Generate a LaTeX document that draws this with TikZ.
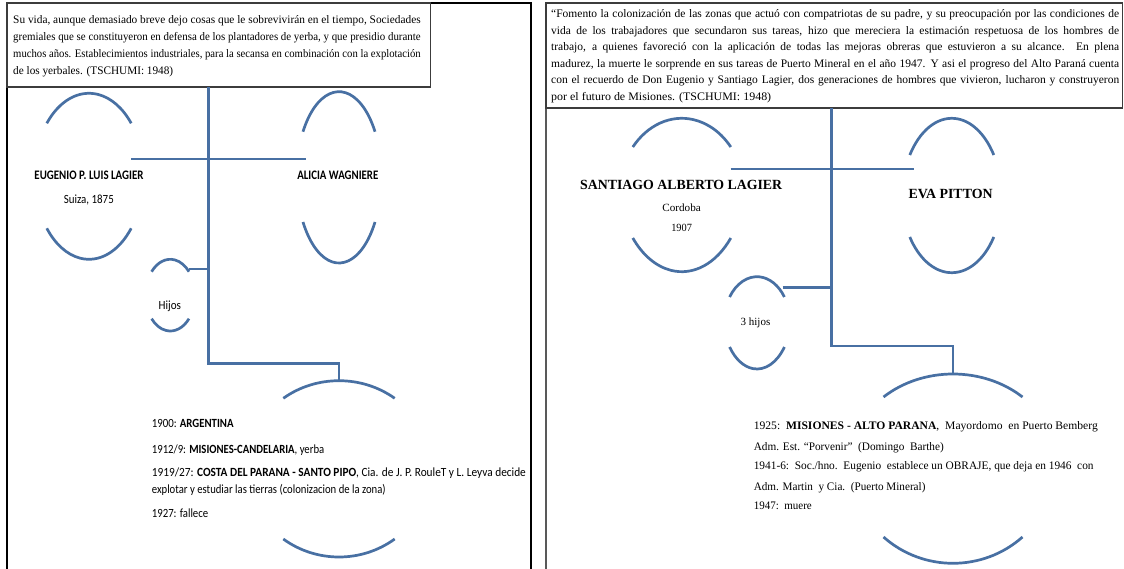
\documentclass[tikz,border=0pt]{standalone}
\usepackage{fontspec}
\usepackage{graphicx}
\setmainfont{Liberation Serif}
\newfontfamily\calib{Carlito}
\usetikzlibrary{calc}
\definecolor{lineblue}{RGB}{72,112,163}
\definecolor{boxgray}{RGB}{60,60,60}
\newcommand\fitw[2]{\resizebox{#1}{\height}{#2}}
\newcommand\fitline[2]{\setbox0\hbox{#2}\ifdim\wd0>#1\relax\resizebox{#1}{\height}{#2}\else\makebox[#1][s]{#2}\fi}
\newcommand\uarc[5]{%
  \pgfmathsetmacro\arx{(#3)/cos(#5)}%
  \pgfmathsetmacro\ary{((#2)-(#4))/(1-sin(#5))}%
  \draw[blueline] ({#1-#3},{#2}) arc[start angle={180+#5}, end angle={360-#5}, x radius=\arx, y radius=\ary];}
\newcommand\larc[5]{%
  \pgfmathsetmacro\arx{(#3)/cos(#5)}%
  \pgfmathsetmacro\ary{((#4)-(#2))/(1-sin(#5))}%
  \draw[blueline] ({#1+#3},{#2}) arc[start angle={#5}, end angle={180-#5}, x radius=\arx, y radius=\ary];}
\begin{document}
\begin{tikzpicture}[x=1pt,y=1pt,yscale=-1,
  blueline/.style={draw=lineblue,line width=2.7pt},
  conn/.style={draw=lineblue,line width=2.7pt},
  panel/.style={draw=black,line width=1.3pt},
  panelg/.style={draw=black!65,line width=2pt},
  tbox/.style={draw=boxgray,line width=1.2pt},
  txt/.style={inner sep=0pt,anchor=base west,font=\fontsize{11.5}{13}\selectfont},
  ctxt/.style={inner sep=0pt,anchor=base},
  cal/.style={inner sep=0pt,anchor=base west,font=\calib\fontsize{12.5}{14}\selectfont},
  tms/.style={inner sep=0pt,anchor=base west,font=\fontsize{11.5}{13}\selectfont}]
\useasboundingbox (0,0) rectangle (1124,569);
\fill[white] (0,0) rectangle (1124,569);

% ---------- left panel ----------
\draw[panel] (7,569) -- (7,3) -- (531,3) -- (531,569);
\draw[tbox] (7,3) rectangle (430.7,87);
\node[txt] (lb1) at (13,23.5) {\fitline{407.5pt}{Su vida, aunque demasiado breve dejo cosas que le sobrevivirán en el tiempo, Sociedades}};
\node[txt] (lb2) at (13,40.5) {\fitline{407.5pt}{gremiales que se constituyeron en defensa de los plantadores de yerba, y que presidio durante}};
\node[txt] (lb3) at (13,57.5) {\fitline{407.5pt}{muchos años. Establecimientos industriales, para la secansa en combinación con la explotación}};
\node[txt] (lb4) at (13,74.5) {\fitw{160pt}{de los yerbales. (TSCHUMI: 1948)}};

% arcs
\uarc{89}{123.3}{42.2}{93.3}{39.5}
\larc{89}{228.3}{42.2}{259.3}{39.5}
\uarc{339}{131.7}{36}{91.7}{32}
\larc{339}{222}{36}{263}{32}
\uarc{170.3}{271.7}{18.7}{259.3}{40.6}
\larc{170.3}{318.7}{18.7}{331}{40.6}
\uarc{339}{398.3}{55.7}{380.7}{53}
\larc{339}{539}{55.7}{557}{53}

% connectors
\coordinate (LtTop) at (208.6,87);
\coordinate (LtBot) at (208.6,363.3);
\coordinate (LeugR) at (131.4,159);
\coordinate (LaliL) at (306,159);
\coordinate (LkidR) at (189,269);
\coordinate (LkidT) at (208.6,269);
\coordinate (LbigT) at (339,380.7);
\draw[conn] (LtTop) -- (LtBot) -| (LbigT);
\draw[conn] (LeugR) -- (LaliL);
\draw[conn] (LkidR) -- (LkidT);

% names
\node[ctxt,font=\calib\bfseries\fontsize{13}{15}\selectfont] (eug) at (89,179.5) {\fitw{109pt}{EUGENIO P. LUIS LAGIER}};
\node[ctxt,font=\calib\fontsize{12.5}{14}\selectfont] (eugb) at (88.8,203.5) {\fitw{50pt}{Suiza, 1875}};
\node[ctxt,font=\calib\bfseries\fontsize{13}{15}\selectfont] (ali) at (337.8,180) {\fitw{81pt}{ALICIA WAGNIERE}};
\node[ctxt,font=\calib\fontsize{12.5}{14}\selectfont] (hij) at (169.8,310) {\fitw{22.4pt}{Hijos}};

\node[cal] (le1) at (151.7,427.5) {\fitw{81.7pt}{1900: \textbf{ARGENTINA}}};
\node[cal] (le2) at (151.7,453.5) {\fitw{172.4pt}{1912/9: \textbf{MISIONES-CANDELARIA}, yerba}};
\node[cal] (le3) at (151.7,476.5) {\fitw{374pt}{1919/27: \textbf{COSTA DEL PARANA - SANTO PIPO}, Cia. de J. P. RouleT y L. Leyva decide}};
\node[cal] (le4) at (151.7,493.5) {\fitw{233.8pt}{explotar y estudiar las tierras (colonizacion de la zona)}};
\node[cal] (le5) at (151.7,517.5) {\fitw{56.3pt}{1927: fallece}};

% ---------- right panel ----------
\draw[panelg] (546,569) -- (546,3);
\draw[tbox] (546,3) rectangle (1122.5,108);
\node[txt] (rb1) at (551,18) {\fitline{568pt}{“Fomento la colonización de las zonas que actuó con compatriotas de su padre, y su preocupación por las condiciones de}};
\node[txt] (rb2) at (551,34.5) {\fitline{568pt}{vida de los trabajadores que secundaron sus tareas, hizo que mereciera la estimación respetuosa de los hombres de}};
\node[txt] (rb3) at (551,51) {\fitline{568pt}{trabajo, a quienes favoreció con la aplicación de todas las mejoras obreras que estuvieron a su alcance. En plena}};
\node[txt] (rb4) at (551,67.5) {\fitline{568pt}{madurez, la muerte le sorprende en sus tareas de Puerto Mineral en el año 1947. Y asi el progreso del Alto Paraná cuenta}};
\node[txt] (rb5) at (551,84) {\fitline{568pt}{con el recuerdo de Don Eugenio y Santiago Lagier, dos generaciones de hombres que vivieron, lucharon y construyeron}};
\node[txt] (rb6) at (551,100.5) {\fitw{220pt}{por el futuro de Misiones. (TSCHUMI: 1948)}};

% arcs
\uarc{681.8}{147}{49}{118.3}{40}
\larc{681.8}{238}{49}{271.7}{40}
\uarc{951.8}{155}{42}{118.3}{33.4}
\larc{951.8}{237}{42}{272.7}{33.4}
\uarc{757}{297}{27.4}{276.7}{34.3}
\larc{757}{347}{27.4}{369}{37}
\uarc{953}{397}{69.5}{374}{48}
\larc{953}{537}{69.5}{563.3}{48}

% connectors
\coordinate (RtTop) at (831.2,108);
\coordinate (RtBot) at (831.2,346);
\coordinate (RsanR) at (730.7,169);
\coordinate (RevaL) at (913.5,169);
\coordinate (RkidR) at (782.5,287.7);
\coordinate (RkidT) at (831.2,287.7);
\coordinate (RbigT) at (953,374);
\draw[conn] (RtTop) -- (RtBot) -| (RbigT);
\draw[conn] (RsanR) -- (RevaL);
\draw[conn] (RkidR) -- (RkidT);

% names
\node[ctxt,font=\bfseries\fontsize{14}{16}\selectfont] (san) at (681.2,189.6) {\fitw{202pt}{SANTIAGO ALBERTO LAGIER}};
\node[ctxt,font=\fontsize{11}{13}\selectfont] (sanb) at (681.6,212) {\fitw{38.4pt}{Cordoba}};
\node[ctxt,font=\fontsize{11}{13}\selectfont] (sanc) at (681.6,231.4) {\fitw{20.7pt}{1907}};
\node[ctxt,font=\bfseries\fontsize{14}{16}\selectfont] (eva) at (950.6,199) {\fitw{84pt}{EVA PITTON}};
\node[ctxt,font=\fontsize{11}{13}\selectfont] (hij3) at (755.5,325.3) {\fitw{29.6pt}{3 hijos}};

\node[tms] (re1) at (753.6,429.5) {\fitw{344pt}{1925:\ \ \textbf{MISIONES - ALTO PARANA},\ \ Mayordomo\ \ en Puerto Bemberg}};
\node[tms] (re2) at (753.6,450.5) {\fitw{190pt}{Adm. Est. “Porvenir”\ \ (Domingo\ \ Barthe)}};
\node[tms] (re3) at (753.6,469.8) {\fitw{339.8pt}{1941-6:\ \ Soc./hno.\ \ Eugenio\ \ establece un OBRAJE, que deja en 1946\ \ con}};
\node[tms] (re4) at (753.6,490.5) {\fitw{171.7pt}{Adm. Martin\ \ y Cia.\ \ (Puerto Mineral)}};
\node[tms] (re5) at (753.6,509.5) {\fitw{58pt}{1947:\ \ muere}};
\end{tikzpicture}
\end{document}
